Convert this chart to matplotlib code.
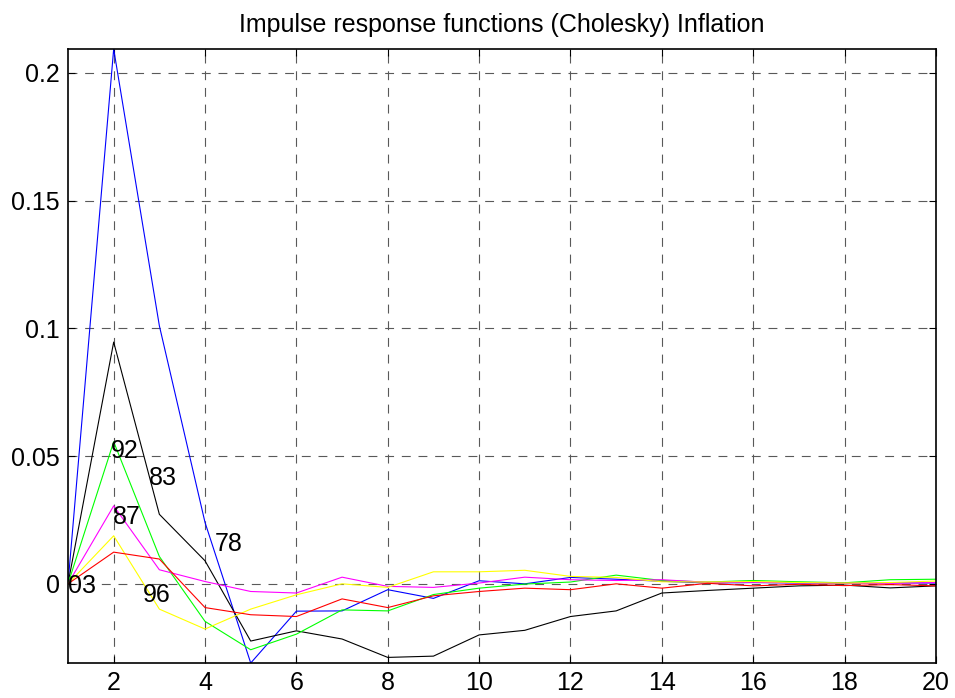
import numpy as np
import matplotlib.pyplot as plt

plt.rcParams['font.family'] = ['Liberation Sans', 'DejaVu Sans']

# horizon 1..20
steps = list(range(1, 21))

blue = [0, 0.2093, 0.101, 0.024, -0.031, -0.0107, -0.0106, -0.0023, -0.0057, 0.0012,
        0.0, 0.0025, 0.0018, 0.001, 0.0003, 0.0005, 0.0003, 0.0002, 0.0004, 0.0003]
black = [0, 0.0946, 0.0272, 0.009, -0.0224, -0.0184, -0.0216, -0.0288, -0.0283, -0.02,
         -0.0182, -0.0128, -0.0106, -0.0036, -0.0026, -0.0017, -0.0008, -0.0005, -0.0016, -0.0008]
green = [0, 0.0556, 0.0107, -0.0147, -0.0258, -0.0197, -0.0102, -0.0106, -0.0042, -0.0017,
         -0.0001, 0.0007, 0.0034, 0.0013, 0.0007, 0.0013, 0.0008, 0.0004, 0.0016, 0.0018]
magenta = [0, 0.0305, 0.0055, 0.0009, -0.003, -0.0036, 0.0026, -0.001, -0.0014, 0.0003,
           0.0026, 0.0016, 0.0013, 0.0016, 0.0006, 0.0006, 0.0004, 0.0002, 0.0002, 0.0005]
yellow = [0, 0.0188, -0.0099, -0.0177, -0.0099, -0.0043, 0.0, -0.0014, 0.0047, 0.0047,
          0.0053, 0.0029, 0.0025, 0.0008, 0.0007, 0.0009, 0.0005, 0.0003, 0.0005, 0.0011]
red = [0, 0.0124, 0.0097, -0.0093, -0.0121, -0.0128, -0.0059, -0.0093, -0.0047, -0.003,
       -0.0017, -0.0023, 0.0, -0.0017, 0.0002, -0.0008, -0.0002, -0.0007, -0.0003, -0.0008]

series = [(blue, '#0000ff'), (black, '#000000'), (green, '#00ff00'),
          (magenta, '#ff00ff'), (yellow, '#ffff00'), (red, '#ff0000')]

# year labels placed in the plot
lab_text = ['92', '83', '87', '78', '96', '03']
lab_x = [1.93, 2.76, 1.99, 4.22, 2.63, 1.01]
lab_y = [0.0518, 0.0413, 0.0262, 0.0156, -0.0045, -0.0008]

fig = plt.figure(figsize=(9.55, 6.98), dpi=100)
ax = fig.add_axes([0.0712, 0.0501, 0.9088, 0.8797])

for vals, col in series:
    ax.plot(steps, vals, color=col, lw=0.8)

for t, x, y in zip(lab_text, lab_x, lab_y):
    ax.text(x, y, t, fontsize=18, ha='left', va='center')

ax.set_xlim(1, 20)
ax.set_ylim(-0.031, 0.2093)
ax.set_xticks(range(2, 21, 2))
ax.set_yticks([0, 0.05, 0.1, 0.15, 0.2])
ax.set_yticklabels(['0', '0.05', '0.1', '0.15', '0.2'])
ax.grid(True, color='0.35', linestyle=(0, (8, 7)), lw=0.8)
ax.tick_params(direction='in', top=True, right=True, labelsize=18, length=5, width=0.8, pad=6)
for s in ax.spines.values():
    s.set_linewidth(1.2)

ax.set_title('Impulse response functions (Cholesky) Inflation', fontsize=18, pad=12)

fig.savefig('out.png', dpi=100)
